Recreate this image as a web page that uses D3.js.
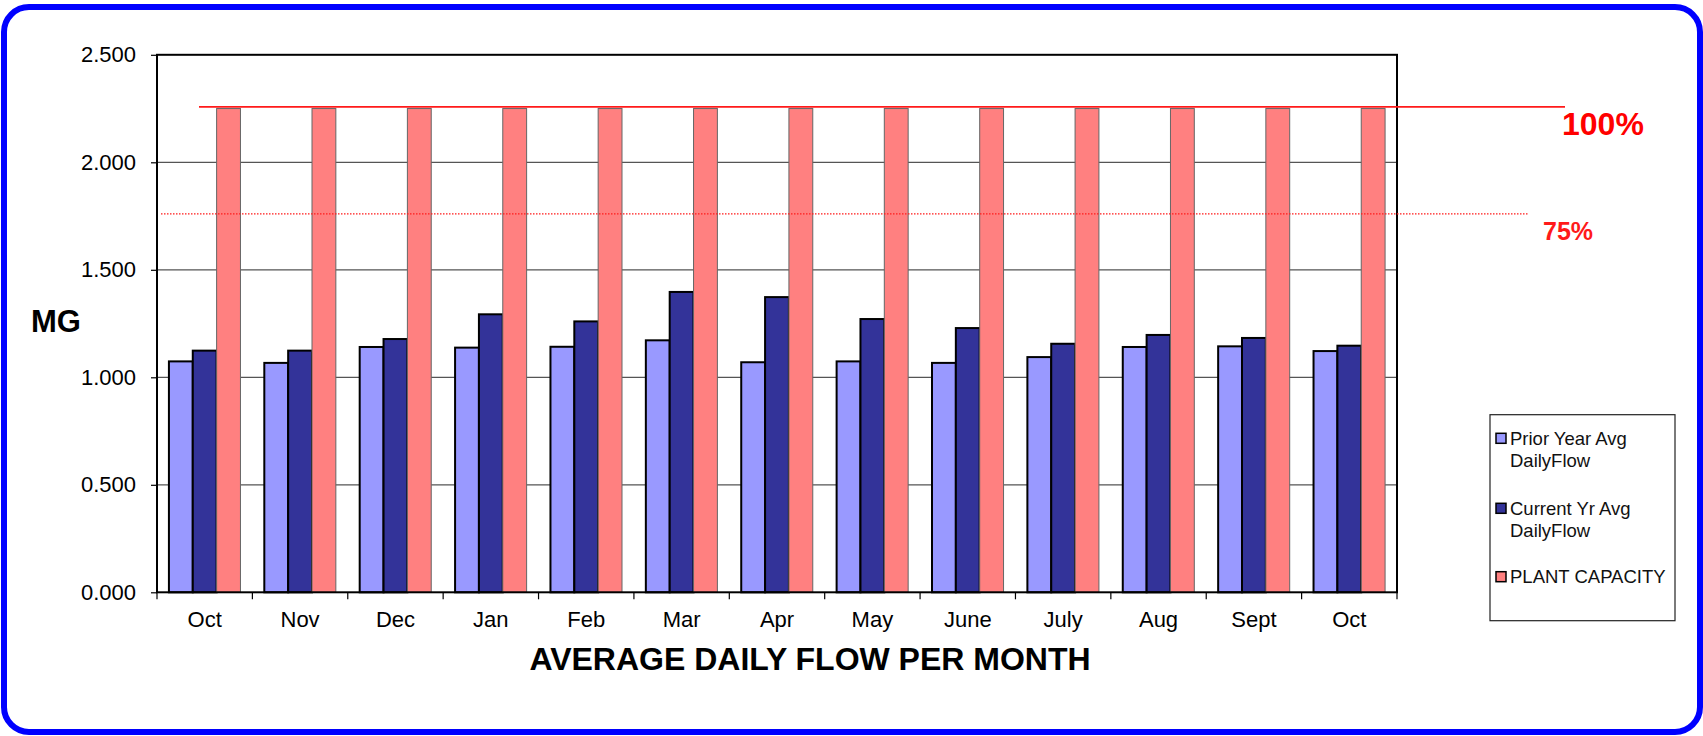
<!DOCTYPE html>
<meta charset="utf-8">
<script src="https://d3js.org/d3.v7.min.js"></script>
<html>
<head>
<style>
  body { margin: 0; background: #fff; }
  svg text { font-family: "Liberation Sans", Arial, sans-serif; }
</style>
</head>
<body>
<div id="flowChart"></div>
<script>
// chart data
var months = ["Oct", "Nov", "Dec", "Jan", "Feb", "Mar", "Apr", "May", "June", "July", "Aug", "Sept", "Oct"];
var priorYear = [1.074, 1.067, 1.141, 1.138, 1.142, 1.172, 1.070, 1.074, 1.067, 1.094, 1.141, 1.144, 1.122];
var currentYear = [1.124, 1.124, 1.178, 1.293, 1.260, 1.397, 1.373, 1.271, 1.229, 1.156, 1.197, 1.183, 1.147];
var plantCapacity = [2.25, 2.25, 2.25, 2.25, 2.25, 2.25, 2.25, 2.25, 2.25, 2.25, 2.25, 2.25, 2.25];
var yTicks = [0, 0.5, 1, 1.5, 2, 2.5];
var seriesNames = ["Prior Year Avg\nDailyFlow", "Current Yr Avg\nDailyFlow", "PLANT CAPACITY"];
var capacityLevels = [2.258, 1.76];
var capacityLabels = ["100%", "75%"];

var colors = ["#9999ff", "#333399", "#ff8080"];
var strokes = ["#000", "#000", "#666"];
var strokeW = [2, 2, 1];

var W = 1703, H = 736;
var plot = {left: 157, right: 1397, top: 54.8, bottom: 592.3};

var svg = d3.select("#flowChart")
  .append("svg")
    .attr("width", W)
    .attr("height", H);

// blue rounded frame round the whole thing
svg.append("rect")
  .attr("x", 4).attr("y", 7)
  .attr("width", 1696).attr("height", 725)
  .attr("rx", 25)
  .attr("fill", "#fff")
  .attr("stroke", "#0000ff")
  .attr("stroke-width", 6);

var x = d3.scaleBand()
  .domain(d3.range(months.length))
  .range([plot.left, plot.right]);

var y = d3.scaleLinear()
  .domain([0, 2.5])
  .range([plot.bottom, plot.top]);

// position of the 3 bars inside each month
var inner = d3.scaleBand()
  .domain([0, 1, 2])
  .range([x.bandwidth() * 0.125, x.bandwidth() * 0.875]);

// gridlines
svg.append("g")
  .selectAll("line")
  .data(yTicks.slice(1, -1))
  .enter().append("line")
    .attr("x1", plot.left).attr("x2", plot.right)
    .attr("y1", function(d) { return y(d); })
    .attr("y2", function(d) { return y(d); })
    .attr("stroke", "#555")
    .attr("stroke-width", 1.2);

// y axis with ticks pointing left
var yAxis = svg.append("g")
  .attr("transform", "translate(" + plot.left + ",0)")
  .call(d3.axisLeft(y).tickValues(yTicks).tickSize(6).tickPadding(15)
    .tickFormat(d3.format(".3f")));
yAxis.select(".domain").remove();
yAxis.selectAll("line").attr("stroke", "#000").attr("stroke-width", 1.2);
yAxis.selectAll("text")
  .attr("font-size", 22)
  .attr("fill", "#000")
  .style("font-family", "'Liberation Sans', Arial, sans-serif");

// x ticks sit on the month boundaries
svg.append("g")
  .selectAll("line")
  .data(d3.range(months.length + 1))
  .enter().append("line")
    .attr("x1", function(d) { return plot.left + d * x.step(); })
    .attr("x2", function(d) { return plot.left + d * x.step(); })
    .attr("y1", plot.bottom)
    .attr("y2", plot.bottom + 7)
    .attr("stroke", "#000")
    .attr("stroke-width", 1.2);

svg.append("g")
  .selectAll("text")
  .data(months)
  .enter().append("text")
    .attr("x", function(d, i) { return x(i) + x.bandwidth() / 2; })
    .attr("y", 627)
    .attr("text-anchor", "middle")
    .attr("font-size", 22)
    .text(function(d) { return d; });

// bars
var series = [priorYear, currentYear, plantCapacity];
series.forEach(function(vals, s) {
  svg.append("g")
    .selectAll("rect")
    .data(vals)
    .enter().append("rect")
      .attr("x", function(d, i) { return x(i) + inner(s); })
      .attr("y", function(d) { return y(d); })
      .attr("width", inner.bandwidth())
      .attr("height", function(d) { return y(0) - y(d); })
      .attr("fill", colors[s])
      .attr("stroke", strokes[s])
      .attr("stroke-width", strokeW[s]);
});

// plot area border
svg.append("rect")
  .attr("x", plot.left).attr("y", plot.top)
  .attr("width", plot.right - plot.left)
  .attr("height", plot.bottom - plot.top)
  .attr("fill", "none")
  .attr("stroke", "#000")
  .attr("stroke-width", 2);

// capacity lines drawn over the chart
svg.append("line")
  .attr("x1", 199).attr("x2", 1565)
  .attr("y1", y(capacityLevels[0])).attr("y2", y(capacityLevels[0]))
  .attr("stroke", "#ff1a1a")
  .attr("stroke-width", 1.7);
svg.append("line")
  .attr("x1", 161).attr("x2", 1528)
  .attr("y1", y(capacityLevels[1])).attr("y2", y(capacityLevels[1]))
  .attr("stroke", "#ff1a1a")
  .attr("stroke-width", 1.3)
  .attr("stroke-dasharray", "1.5,1.5");

svg.append("text")
  .attr("x", 1562).attr("y", 135)
  .attr("font-size", 32).attr("font-weight", "bold")
  .attr("fill", "#ff0000")
  .text(capacityLabels[0]);
svg.append("text")
  .attr("x", 1543).attr("y", 240)
  .attr("font-size", 25).attr("font-weight", "bold")
  .attr("fill", "#ff1a1a")
  .text(capacityLabels[1]);

// axis titles
svg.append("text")
  .attr("x", 31).attr("y", 332)
  .attr("font-size", 31).attr("font-weight", "bold")
  .text("MG");
svg.append("text")
  .attr("x", 810).attr("y", 670)
  .attr("text-anchor", "middle")
  .attr("font-size", 32).attr("font-weight", "bold")
  .text("AVERAGE DAILY FLOW PER MONTH");

// legend
var legend = svg.append("g");
legend.append("rect")
  .attr("x", 1490).attr("y", 414.7)
  .attr("width", 185).attr("height", 206)
  .attr("fill", "#fff")
  .attr("stroke", "#222")
  .attr("stroke-width", 1.2);

var legendRows = [433.3, 503.3, 571.7];
seriesNames.forEach(function(name, s) {
  legend.append("rect")
    .attr("x", 1496).attr("y", legendRows[s])
    .attr("width", 10).attr("height", 10)
    .attr("fill", colors[s])
    .attr("stroke", "#000")
    .attr("stroke-width", 1.5);
  var t = legend.append("text")
    .attr("x", 1510).attr("y", legendRows[s] + 11.5)
    .attr("font-size", 18.5)
    .attr("fill", "#111");
  name.split("\n").forEach(function(line, k) {
    t.append("tspan")
      .attr("x", 1510)
      .attr("dy", k === 0 ? 0 : 21.7)
      .text(line);
  });
});
</script>
</body>
</html>
